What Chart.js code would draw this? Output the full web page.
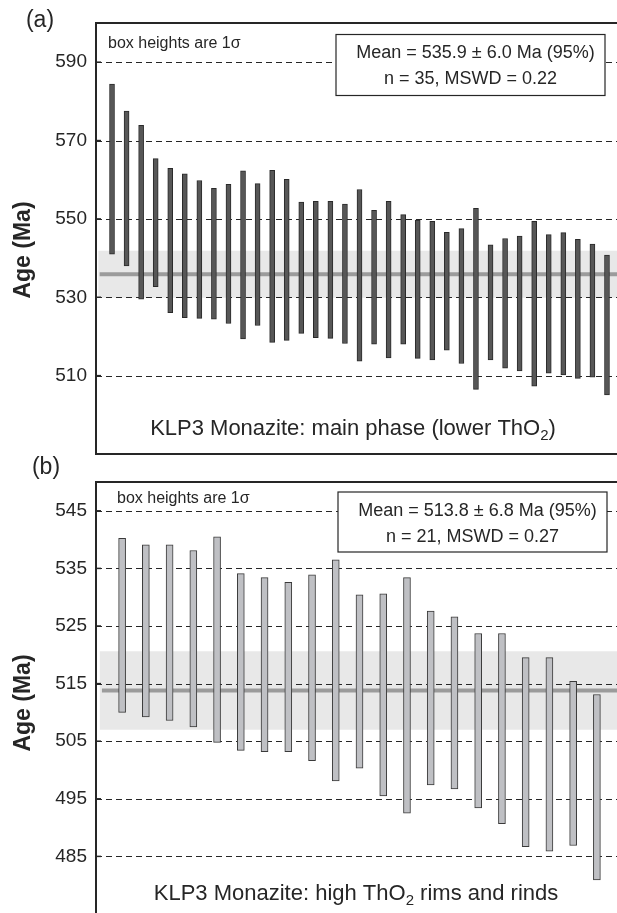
<!DOCTYPE html>
<html lang="en">
<head>
<meta charset="UTF-8">
<title>KLP3 Monazite ages</title>
<script src="https://cdn.jsdelivr.net/npm/chart.js"></script>
<style>
  html, body { margin: 0; padding: 0; background: #fff; overflow: hidden; }
  .page { position: relative; width: 617px; height: 913px; overflow: hidden; }
  .panel { position: absolute; left: 0; }
  #chartA { top: 0; }
  #chartB { top: 450px; }
</style>
</head>
<body>
<div class="page">
  <canvas class="panel" id="chartA" width="624" height="460"></canvas>
  <canvas class="panel" id="chartB" width="624" height="467"></canvas>
</div>
<script>
// (a) main phase, lower ThO2 : 1 sigma age boxes (Ma)
const mainLow = [541.0, 538.0, 529.5, 532.7, 526.1, 524.8, 524.6, 524.4, 523.3, 519.4,
                 522.8, 518.5, 519.0, 520.8, 519.7, 519.5, 518.2, 513.7, 518.0, 514.5,
                 518.0, 514.4, 514.0, 516.5, 513.1, 506.5, 514.0, 511.9, 511.2, 507.3,
                 510.6, 510.2, 509.3, 509.6, 505.1];
const mainHigh = [584.4, 577.5, 573.9, 565.4, 562.9, 561.5, 559.8, 557.8, 558.8, 562.3,
                  559.0, 562.4, 560.1, 554.3, 554.5, 554.5, 553.8, 557.5, 552.2, 554.5,
                  551.1, 549.7, 549.4, 546.6, 547.5, 552.7, 543.4, 545.0, 545.6, 549.4,
                  546.0, 546.5, 544.8, 543.6, 540.8];
const mainMean = 535.9;
const mainErr = 6.0;
const mainMswd = 0.22;
const mainTicks = [510, 530, 550, 570, 590];

// (b) high ThO2 rims and rinds
const rimLow = [510.0, 509.2, 508.6, 507.5, 504.8, 503.4, 503.2, 503.2, 501.6, 498.1,
                500.3, 495.5, 492.5, 497.4, 496.7, 493.4, 490.7, 486.7, 485.9, 486.9, 480.9];
const rimHigh = [540.2, 539.1, 539.1, 538.1, 540.5, 534.1, 533.4, 532.6, 533.9, 536.5,
                 530.4, 530.6, 533.4, 527.6, 526.6, 523.7, 523.7, 519.5, 519.5, 515.4, 513.1];
const rimMean = 513.8;
const rimErr = 6.8;
const rimMswd = 0.27;
const rimTicks = [485, 495, 505, 515, 525, 535, 545];

const FONT = "'Liberation Sans', Arial, Helvetica, sans-serif";
const INK = '#262626';

// frame, inward ticks, dashed grid and the text notes of each panel
const panelDecor = {
  id: 'panelDecor',
  afterDatasetDraw(chart, args, opts) {
    if (args.index !== opts.bandIndex) return;
    const {ctx, chartArea: a, scales: {y}} = chart;
    ctx.save();
    ctx.beginPath();
    ctx.rect(a.left, a.top, a.right - a.left, a.bottom - a.top);
    ctx.clip();
    ctx.setLineDash([6, 4]);
    ctx.strokeStyle = INK;
    ctx.lineWidth = 1;
    y.ticks.forEach(t => {
      if (!t.label) return;
      const py = Math.round(y.getPixelForValue(t.value)) + 0.5;
      ctx.beginPath();
      ctx.moveTo(a.left, py);
      ctx.lineTo(a.right, py);
      ctx.stroke();
    });
    ctx.restore();
  },
  afterDraw(chart, args, opts) {
    const {ctx, chartArea: a, scales: {y}} = chart;
    ctx.save();
    ctx.strokeStyle = INK;
    ctx.lineWidth = 2;
    ctx.beginPath();
    if (opts.bottomEdge) {
      ctx.moveTo(a.right + 2, a.bottom);
      ctx.lineTo(a.left, a.bottom);
    } else {
      ctx.moveTo(a.left, a.bottom + 4);
    }
    ctx.lineTo(a.left, a.top);
    ctx.lineTo(a.right + 2, a.top);
    ctx.stroke();

    ctx.lineWidth = 1.5;
    y.ticks.forEach(t => {
      const py = y.getPixelForValue(t.value);
      if (py <= a.top + 2 || py >= a.bottom - 2) return;
      ctx.beginPath();
      ctx.moveTo(a.left, py);
      ctx.lineTo(a.left + 5, py);
      ctx.stroke();
    });

    ctx.fillStyle = INK;

    // axis title, reading upwards
    ctx.save();
    ctx.translate(30, opts.titleY);
    ctx.rotate(-Math.PI / 2);
    ctx.font = `bold 23px ${FONT}`;
    ctx.textAlign = 'center';
    ctx.textBaseline = 'alphabetic';
    ctx.fillText('Age (Ma)', 0, 0);
    ctx.restore();

    ctx.font = `23px ${FONT}`;
    ctx.textAlign = 'center';
    ctx.textBaseline = 'middle';
    ctx.fillText(opts.letter, opts.letterX, opts.letterY);

    ctx.font = `16px ${FONT}`;
    ctx.textAlign = 'left';
    ctx.textBaseline = 'alphabetic';
    ctx.fillText('box heights are 1σ', opts.noteX, opts.noteY);

    const b = opts.box;
    ctx.fillStyle = '#fff';
    ctx.fillRect(b.x, b.y, b.w, b.h);
    ctx.lineWidth = 1.2;
    ctx.strokeRect(b.x, b.y, b.w, b.h);
    ctx.fillStyle = INK;
    ctx.font = `18px ${FONT}`;
    ctx.textAlign = 'center';
    ctx.textBaseline = 'middle';
    ctx.fillText(opts.stats[0], b.x + b.w / 2 + 5, b.y + 19);
    ctx.fillText(opts.stats[1], b.x + b.w / 2, b.y + 45);

    // caption with ThO2 subscript
    const big = `22px ${FONT}`, small = `15px ${FONT}`;
    let width = 0;
    opts.caption.forEach(([txt, sub]) => {
      ctx.font = sub ? small : big;
      width += ctx.measureText(txt).width;
    });
    let cx = opts.captionX - width / 2;
    ctx.textAlign = 'left';
    ctx.textBaseline = 'alphabetic';
    opts.caption.forEach(([txt, sub]) => {
      ctx.font = sub ? small : big;
      ctx.fillText(txt, cx, opts.captionY + (sub ? 5 : 0));
      cx += ctx.measureText(txt).width;
    });
    ctx.restore();
  }
};

function makePanel(canvasId, low, high, mean, err, ticks, cfg) {
  const n = low.length;
  const bars = low.map((lo, i) => ({x: i + 1, y: [lo, high[i]]}));
  return new Chart(document.getElementById(canvasId), {
    type: 'bar',
    data: {
      datasets: [
        {
          label: 'ages',
          data: bars,
          backgroundColor: cfg.barFill,
          borderColor: cfg.barEdge,
          borderWidth: 1,
          borderSkipped: false,
          barThickness: cfg.barWidth,
          order: 0
        },
        {
          type: 'line',
          label: 'mean',
          data: [{x: 0.15, y: mean}, {x: n + 1, y: mean}],
          borderColor: '#9b9b9b',
          borderWidth: 4,
          pointRadius: 0,
          fill: false,
          order: 1
        },
        {
          type: 'line',
          label: '95% band',
          data: [{x: 0.05, y: mean + err}, {x: n + 1, y: mean + err}],
          borderWidth: 0,
          pointRadius: 0,
          backgroundColor: '#e8e8e8',
          fill: {value: mean - err},
          order: 2
        }
      ]
    },
    options: {
      responsive: false,
      animation: false,
      layout: {padding: {top: cfg.top, bottom: cfg.bottom, left: 0, right: 1}},
      scales: {
        x: {
          type: 'linear',
          min: -0.1,
          max: n + 1.1,
          offset: false,
          display: false
        },
        y: {
          min: cfg.yMin,
          max: cfg.yMax,
          afterFit: s => {
            s.width = 96;
            s.paddingTop = 0;
            s.paddingBottom = 0;
          },
          grid: {display: false, drawTicks: false},
          border: {display: false},
          ticks: {
            stepSize: cfg.minorStep,
            autoSkip: false,
            padding: 9,
            color: INK,
            font: {family: FONT, size: 19},
            callback: v => ticks.includes(v) ? String(v) : null
          }
        }
      },
      plugins: {
        legend: {display: false},
        tooltip: {enabled: false},
        panelDecor: {
          bandIndex: 2,
          bottomEdge: cfg.bottomEdge,
          titleY: cfg.titleY,
          letter: cfg.letter,
          letterX: cfg.letterX,
          letterY: cfg.letterY,
          noteX: cfg.noteX,
          noteY: cfg.noteY,
          box: cfg.box,
          stats: [`Mean = ${mean.toFixed(1)} ± ${err.toFixed(1)} Ma (95%)`,
                  `n = ${n}, MSWD = ${cfg.mswd.toFixed(2)}`],
          caption: cfg.caption,
          captionX: cfg.captionX,
          captionY: cfg.captionY
        }
      }
    },
    plugins: [panelDecor]
  });
}

makePanel('chartA', mainLow, mainHigh, mainMean, mainErr, mainTicks, {
  yMin: 490, yMax: 600, minorStep: 10,
  top: 23, bottom: 6, bottomEdge: true,
  barFill: '#575757', barEdge: '#2a2a2a', barWidth: 5,
  titleY: 250,
  letter: '(a)', letterX: 40, letterY: 21,
  noteX: 108, noteY: 48,
  box: {x: 336, y: 34.5, w: 269, h: 61},
  mswd: mainMswd,
  caption: [['KLP3 Monazite: main phase (lower ThO', false], ['2', true], [')', false]],
  captionX: 353, captionY: 435
});

makePanel('chartB', rimLow, rimHigh, rimMean, rimErr, rimTicks, {
  yMin: 475, yMax: 550, minorStep: 5,
  top: 32, bottom: 3, bottomEdge: false,
  barFill: '#bfc0c4', barEdge: '#3a3a3a', barWidth: 7,
  titleY: 253,
  letter: '(b)', letterX: 46, letterY: 18,
  noteX: 117, noteY: 53,
  box: {x: 338, y: 42, w: 269, h: 60},
  mswd: rimMswd,
  caption: [['KLP3 Monazite: high ThO', false], ['2', true], [' rims and rinds', false]],
  captionX: 356, captionY: 450
});
</script>
</body>
</html>
